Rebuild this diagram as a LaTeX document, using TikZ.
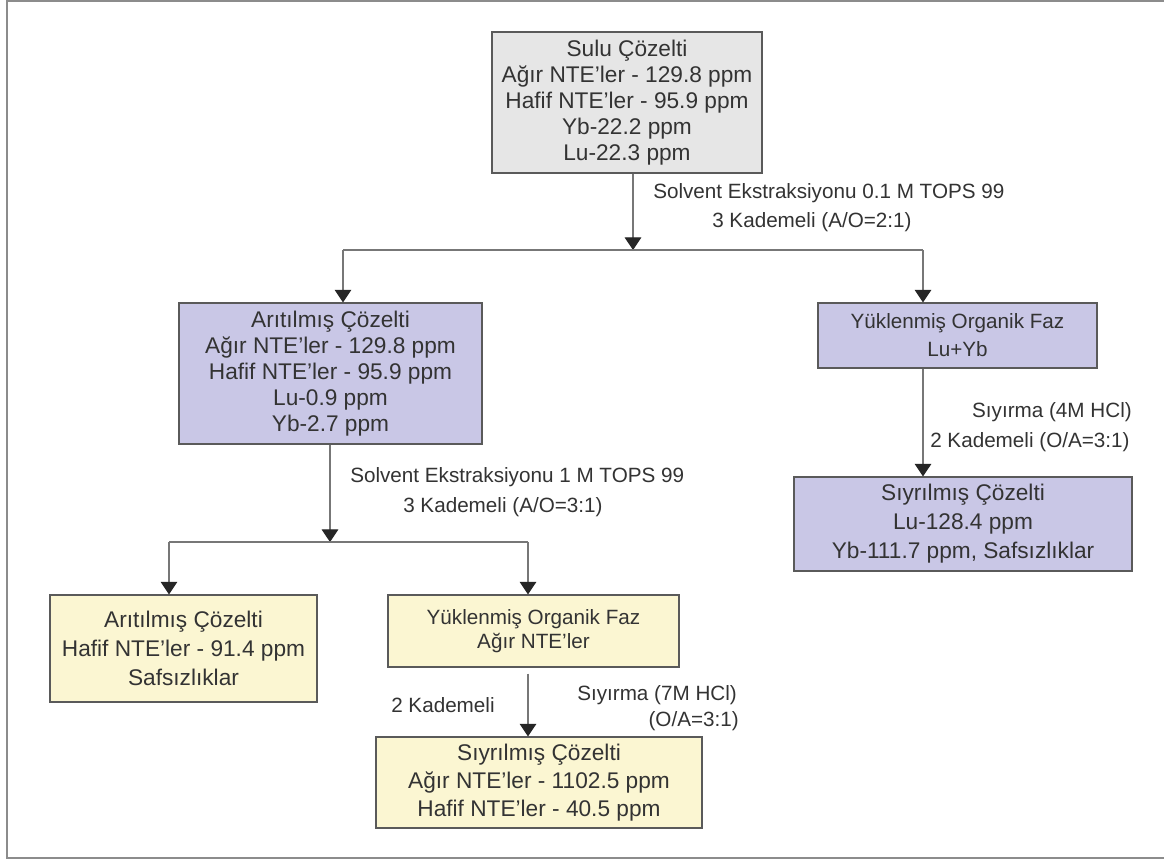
\documentclass[tikz,border=0pt]{standalone}
\usepackage{fontspec}
\setmainfont{Liberation Sans}
\usetikzlibrary{arrows.meta}
\definecolor{framec}{HTML}{8C8C8C}
\definecolor{boxline}{HTML}{5A5A5A}
\definecolor{txt}{HTML}{333333}
\definecolor{grayfill}{HTML}{E6E6E6}
\definecolor{purplefill}{HTML}{C9C7E6}
\definecolor{yellowfill}{HTML}{FBF6D2}
\definecolor{linec}{HTML}{777777}
\definecolor{headc}{HTML}{262626}
\begin{document}
\begin{tikzpicture}[x=0.75pt,y=-0.75pt,
  box/.style={draw=boxline, line width=0.8pt, text=txt, align=center, inner sep=0pt},
  bigtxt/.style={font=\fontsize{17}{#1}\selectfont},
  smalltxt/.style={font=\fontsize{15.5}{#1}\selectfont},
  lbl/.style={text=txt, inner sep=0pt, anchor=west, font=\fontsize{15.5}{18}\selectfont},
  lblr/.style={text=txt, inner sep=0pt, anchor=east, font=\fontsize{15.5}{18}\selectfont},
  wire/.style={draw=linec, line width=0.8pt},
  conn/.style={wire, -{Triangle[width=12.5pt,length=9.5pt,color=headc]}}
]
\useasboundingbox (0,0) rectangle (1164,860);
\fill[white] (0,0) rectangle (1164,860);
\draw[framec, line width=1.2pt] (1166,1) -- (7,1) -- (7,858) -- (1166,858);

% boxes
\node[box, fill=grayfill, bigtxt=19.5, minimum width=202.5pt, minimum height=105.75pt] (top) at (627,102.5)
  {Sulu Çözelti\\Ağır NTE’ler - 129.8 ppm\\Hafif NTE’ler - 95.9 ppm\\Yb-22.2 ppm\\Lu-22.3 ppm};
\node[box, fill=purplefill, bigtxt=19.5, minimum width=227.25pt, minimum height=105.75pt] (lp) at (330.5,373.5)
  {Arıtılmış Çözelti\\Ağır NTE’ler - 129.8 ppm\\Hafif NTE’ler - 95.9 ppm\\Lu-0.9 ppm\\Yb-2.7 ppm};
\node[box, fill=purplefill, smalltxt=21, minimum width=209.25pt, minimum height=48.75pt] (rp1) at (957.5,335.5)
  {Yüklenmiş Organik Faz\\Lu+Yb};
\node[box, fill=purplefill, bigtxt=21.75, minimum width=253.5pt, minimum height=70.5pt] (rp2) at (963,524)
  {Sıyrılmış Çözelti\\Lu-128.4 ppm\\Yb-111.7 ppm, Safsızlıklar};
\node[box, fill=yellowfill, bigtxt=21.75, minimum width=200.25pt, minimum height=80.25pt] (y1) at (183.5,648.5)
  {Arıtılmış Çözelti\\Hafif NTE’ler - 91.4 ppm\\Safsızlıklar};
\node[box, fill=yellowfill, smalltxt=17.5, minimum width=218.25pt, minimum height=54pt] (y2) at (533.5,631)
  {Yüklenmiş Organik Faz\\Ağır NTE’ler};
\node[box, fill=yellowfill, bigtxt=21, minimum width=244.5pt, minimum height=68.25pt] (y3) at (539,782.5)
  {Sıyrılmış Çözelti\\Ağır NTE’ler - 1102.5 ppm\\Hafif NTE’ler - 40.5 ppm};

% junctions
\coordinate (j1) at (633,250);
\coordinate (j1l) at (343,250);
\coordinate (j1r) at (923,250);
\coordinate (j2) at (330,542);
\coordinate (j2l) at (169,542);
\coordinate (j2r) at (528,542);

% connectors
\draw[conn] (top.south -| j1) -- (j1);
\draw[wire] (j1l) -- (j1r);
\draw[conn] (j1l) -- (lp.north -| j1l);
\draw[conn] (j1r) -- (rp1.north -| j1r);
\draw[conn] (rp1.south -| j1r) -- (rp2.north -| j1r);
\draw[conn] (lp.south -| j2) -- (j2);
\draw[wire] (j2l) -- (j2r);
\draw[conn] (j2l) -- (y1.north -| j2l);
\draw[conn] (j2r) -- (y2.north -| j2r);
\draw[conn] ([yshift=-4.5pt]y2.south -| j2r) -- (y3.north -| j2r);

% labels
\node[lbl] (l1a) at (653,193) {Solvent Ekstraksiyonu 0.1 M TOPS 99};
\node[lbl] (l1b) at (712,222) {3 Kademeli (A/O=2:1)};
\node[lbl] (l2a) at (350,477) {Solvent Ekstraksiyonu 1 M TOPS 99};
\node[lbl] (l2b) at (403,507) {3 Kademeli (A/O=3:1)};
\node[lblr] (l3a) at (1132,412) {Sıyırma (4M HCl)};
\node[lbl] (l3b) at (930,442) {2 Kademeli (O/A=3:1)};
\node[lbl] (l4a) at (391,705) {2 Kademeli};
\node[lbl] (l4b) at (577,695) {Sıyırma (7M HCl)};
\node[lblr] (l4c) at (739,721) {(O/A=3:1)};
\end{tikzpicture}
\end{document}
